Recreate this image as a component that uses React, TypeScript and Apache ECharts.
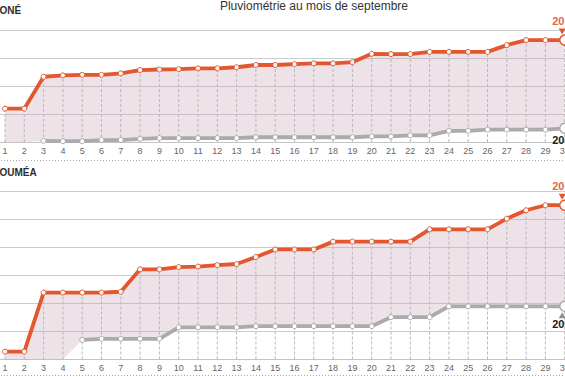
import React, { useEffect, useRef } from "react";
import * as echarts from "echarts";

const days = [1, 2, 3, 4, 5, 6, 7, 8, 9, 10, 11, 12, 13, 14, 15, 16, 17, 18, 19, 20, 21, 22, 23, 24, 25, 26, 27, 28, 29, 30];

// Koné, cumulative rainfall (mm)
const koneCurrent = [11.9, 11.9, 23.3, 23.8, 24.0, 24.0, 24.5, 25.7, 25.9, 26.0, 26.3, 26.3, 26.7, 27.5, 27.5, 27.8, 28.1, 28.1, 28.5, 31.5, 31.4, 31.4, 32.2, 32.2, 32.2, 32.2, 34.6, 36.4, 36.4, 36.4];
const konePrevious = [null, null, 0.4, 0.3, 0.3, 0.7, 0.7, 1.1, 1.4, 1.4, 1.4, 1.4, 1.4, 1.7, 1.7, 1.7, 1.7, 1.7, 1.7, 2.0, 2.0, 2.4, 2.4, 4.0, 4.0, 4.4, 4.4, 4.4, 4.4, 4.9];

// Nouméa, cumulative rainfall (mm)
const noumeaCurrent = [2.8, 2.8, 23.9, 23.9, 23.9, 23.9, 24.2, 32.2, 32.2, 33.0, 33.2, 33.7, 34.1, 36.6, 39.3, 39.3, 39.3, 42.1, 42.1, 42.1, 42.1, 42.1, 46.5, 46.5, 46.5, 46.5, 50.3, 53.3, 55.1, 55.1];
const noumeaPrevious = [null, null, null, null, 7.0, 7.4, 7.4, 7.4, 7.4, 11.5, 11.5, 11.5, 11.5, 11.9, 11.9, 11.9, 11.9, 11.9, 11.9, 11.9, 15.1, 15.1, 15.1, 19.0, 19.0, 19.0, 19.0, 19.0, 19.0, 19.0];

const titleText = "Pluviométrie au mois de septembre";
const panelTitles = ["ONÉ", "OUMÉA"];
const currentLabel = "20";
const previousLabel = "20";

const RED = "#e4572e";
const GRAY = "#acaaac";
const OFF = 20; // chart div is shifted left by this amount

export default function App() {
  const ref = useRef<HTMLDivElement>(null);

  useEffect(() => {
    if (!ref.current) return;
    const chart = echarts.init(ref.current, undefined, { renderer: "svg" });

    const panels = [
      { cur: koneCurrent, prev: konePrevious, prevTri: false, prevLabelOff: 17 },
      { cur: noumeaCurrent, prev: noumeaPrevious, prevTri: true, prevLabelOff: 23.7 },
    ];

    const series: any[] = [];
    panels.forEach((p, gi) => {
      const last = days.length - 1;
      // fill between the two years
      series.push({
        type: "custom",
        xAxisIndex: gi,
        yAxisIndex: gi,
        data: [[days[0], p.cur[0]]],
        encode: { x: 0, y: 1 },
        silent: true,
        z: 1,
        renderItem: (params: any, api: any) => {
          const top = days.map((d, i) => api.coord([d, p.cur[i]]));
          const bottom = days
            .map((d, i) => api.coord([d, p.prev[i] ?? 0]))
            .reverse();
          return {
            type: "polygon",
            shape: { points: top.concat(bottom) },
            style: { fill: "rgba(200,166,181,0.33)" },
          };
        },
      });
      series.push({
        type: "custom",
        xAxisIndex: gi,
        yAxisIndex: gi,
        data: days.map((d, i) => [d, p.cur[i]]),
        encode: { x: 0, y: 1 },
        silent: true,
        z: 2,
        renderItem: (params: any, api: any) => {
          const x = api.value(0);
          const y = api.value(1);
          const p0 = api.coord([x, 0]);
          const p1 = api.coord([x, y]);
          return {
            type: "line",
            shape: { x1: p0[0], y1: p0[1], x2: p1[0], y2: p1[1] },
            style: { stroke: "#bdb5b9", lineWidth: 1, lineDash: [3, 2] },
          };
        },
      });
      // previous year (gray)
      series.push({
        type: "line",
        xAxisIndex: gi,
        yAxisIndex: gi,
        z: 3,
        data: days.map((d, i) =>
          i === last
            ? {
                value: [d, p.prev[i]],
                symbolSize: 10,
                itemStyle: { borderWidth: 1.5 },
                label: {
                  show: true,
                  formatter: previousLabel,
                  position: [-6.7, p.prevLabelOff],
                  align: "left",
                  verticalAlign: "middle",
                  color: "#1a1a1a",
                  fontWeight: "bold",
                  fontSize: 11,
                  fontFamily: "Liberation Sans, Arial, sans-serif",
                },
              }
            : [d, p.prev[i]]
        ),
        symbol: "circle",
        symbolSize: 5,
        lineStyle: { color: GRAY, width: 3.8 },
        itemStyle: { color: "#fff", borderColor: GRAY, borderWidth: 1 },
        markPoint: p.prevTri
          ? {
              silent: true,
              label: { show: false },
              data: [
                {
                  coord: [days[last], p.prev[last]],
                  symbol: "triangle",
                  symbolSize: [7, 6],
                  symbolOffset: [-2.5, 9],
                  itemStyle: { color: "#8f8d8f" },
                },
              ],
            }
          : undefined,
      });
      // current year (red)
      series.push({
        type: "line",
        xAxisIndex: gi,
        yAxisIndex: gi,
        z: 4,
        data: days.map((d, i) =>
          i === last
            ? {
                value: [d, p.cur[i]],
                symbolSize: 10,
                itemStyle: { borderWidth: 1.5 },
                label: {
                  show: true,
                  formatter: currentLabel,
                  position: [-6.7, -13],
                  align: "left",
                  verticalAlign: "middle",
                  color: "#e8663d",
                  fontWeight: "bold",
                  fontSize: 11,
                  fontFamily: "Liberation Sans, Arial, sans-serif",
                },
              }
            : [d, p.cur[i]]
        ),
        symbol: "circle",
        symbolSize: 5,
        lineStyle: { color: RED, width: 3.8 },
        itemStyle: { color: "#fff", borderColor: RED, borderWidth: 1 },
        markPoint: {
          silent: true,
          label: { show: false },
          data: [
            {
              coord: [days[last], p.cur[last]],
              symbol: "triangle",
              symbolSize: [7, 6],
              symbolRotate: 180,
              symbolOffset: [-2.5, -8.5],
              itemStyle: { color: RED },
            },
          ],
        },
      });
    });

    const xAxisCommon = {
      type: "value",
      min: 0,
      max: 32,
      interval: 1,
      axisTick: { show: false },
      splitLine: { show: false },
      axisLine: { show: true, lineStyle: { color: "#c4c4c4", width: 1 } },
      axisLabel: {
        margin: 4,
        fontSize: 9,
        color: "#666",
        fontFamily: "Liberation Sans Narrow, Arial Narrow, sans-serif",
        formatter: (v: number) => (days.indexOf(v) >= 0 ? String(v) : ""),
      },
    };
    const yAxisCommon = {
      type: "value",
      min: 0,
      interval: 10,
      axisLabel: { show: false },
      axisTick: { show: false },
      axisLine: { show: false },
      splitLine: { show: true, lineStyle: { color: "#cbcbcb", width: 1 } },
    };

    const dayW = 19.3;
    const gridLeft = OFF + 5 - dayW;
    const gridW = 32 * dayW;

    chart.setOption({
      animation: false,
      grid: [
        { left: gridLeft, top: 30, width: gridW, height: 112 },
        { left: gridLeft, top: 191.5, width: gridW, height: 168 },
      ],
      xAxis: [
        { ...xAxisCommon, gridIndex: 0 },
        { ...xAxisCommon, gridIndex: 1 },
      ],
      yAxis: [
        { ...yAxisCommon, gridIndex: 0, max: 40 },
        { ...yAxisCommon, gridIndex: 1, max: 60 },
      ],
      graphic: [
        {
          type: "text",
          x: OFF + 314,
          y: 6,
          style: {
            text: titleText,
            fill: "#333",
            font: "12px 'Liberation Sans', Arial, sans-serif",
            textAlign: "center",
            textVerticalAlign: "middle",
          },
        },
        {
          type: "text",
          x: OFF - 0.5,
          y: 10,
          style: {
            text: panelTitles[0],
            fill: "#2e2e2e",
            font: "bold 10px 'Liberation Sans', Arial, sans-serif",
            textAlign: "left",
            textVerticalAlign: "middle",
          },
        },
        {
          type: "text",
          x: OFF - 0.5,
          y: 172.5,
          style: {
            text: panelTitles[1],
            fill: "#2e2e2e",
            font: "bold 10px 'Liberation Sans', Arial, sans-serif",
            textAlign: "left",
            textVerticalAlign: "middle",
          },
        },
        {
          type: "line",
          shape: { x1: 0, y1: 160.5, x2: 640, y2: 160.5 },
          style: { stroke: "#a8a8a8", lineWidth: 1, lineDash: [1, 2] },
        },
        {
          type: "line",
          shape: { x1: 0, y1: 375.5, x2: 640, y2: 375.5 },
          style: { stroke: "#a8a8a8", lineWidth: 1, lineDash: [1, 2] },
        },
      ],
      series,
    });

    return () => chart.dispose();
  }, []);

  return (
    <div
      style={{
        position: "fixed",
        left: 0,
        top: 0,
        width: 565,
        height: 377,
        overflow: "hidden",
        background: "#fff",
      }}
    >
      <div
        ref={ref}
        style={{ position: "absolute", left: -OFF, top: 0, width: 640, height: 377 }}
      />
    </div>
  );
}
